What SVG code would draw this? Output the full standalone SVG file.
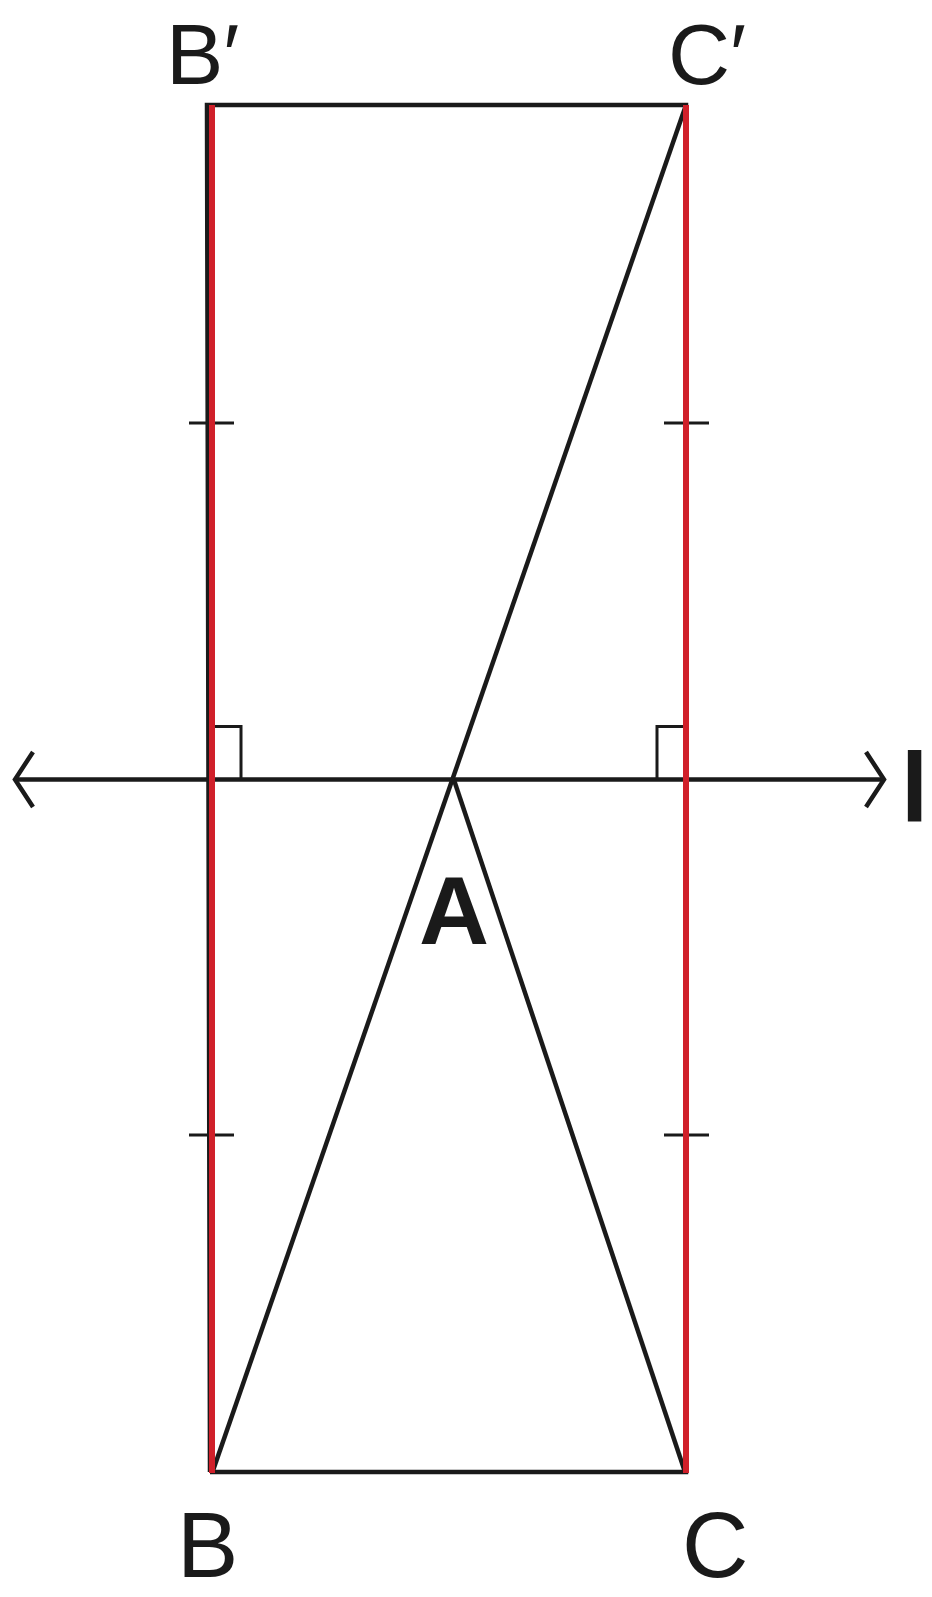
<svg xmlns="http://www.w3.org/2000/svg" width="932" height="1597" viewBox="0 0 932 1597">
<style>
.blk{stroke:#1a1a1a;stroke-width:4.5;fill:none;stroke-linecap:butt;stroke-linejoin:miter}
.thin{stroke:#1a1a1a;stroke-width:3;fill:none}
.red{stroke:#d0202a;stroke-width:6;fill:none}
.lbl{font-family:"Liberation Sans","Helvetica",Arial,sans-serif;fill:#1a1a1a}
.bold{font-weight:bold}
</style>
<rect width="932" height="1597" fill="#ffffff"/>
<g id="connectors">
  <line class="blk" x1="15" y1="779.5" x2="884" y2="779.5"/>
  <polyline class="blk" points="33,752 15,779.5 33,807"/>
  <polyline class="blk" points="866,752 884,779.5 866,807"/>
  <polyline class="blk" points="210,1472 207,105 686,105 686,1472 210,1472"/>
  <line class="blk" x1="686" y1="105" x2="212.5" y2="1472"/>
  <line class="blk" x1="454" y1="780" x2="685" y2="1472"/>
  <polyline class="thin" points="212,726.5 241,726.5 241,779.5"/>
  <polyline class="thin" points="686,726.5 657,726.5 657,779.5"/>
  <line class="thin" x1="189" y1="423" x2="234" y2="423"/>
  <line class="thin" x1="664" y1="423" x2="709" y2="423"/>
  <line class="thin" x1="189" y1="1135" x2="234" y2="1135"/>
  <line class="thin" x1="664" y1="1135" x2="709" y2="1135"/>
  <line class="red" x1="212" y1="105" x2="212" y2="1473"/>
  <line class="red" x1="686" y1="105" x2="686" y2="1473"/>
</g>
<g id="B-prime"><text class="lbl" x="166" y="84" font-size="86">B′</text></g>
<g id="C-prime"><text class="lbl" x="668" y="84" font-size="86">C′</text></g>
<g id="B"><text class="lbl" x="177" y="1577" font-size="92">B</text></g>
<g id="C"><text class="lbl" x="682" y="1577" font-size="92">C</text></g>
<g id="A"><text class="lbl bold" x="454" y="944" font-size="97" text-anchor="middle">A</text></g>
<g id="l"><text class="lbl bold" x="901" y="821" font-size="98">l</text></g>
</svg>
